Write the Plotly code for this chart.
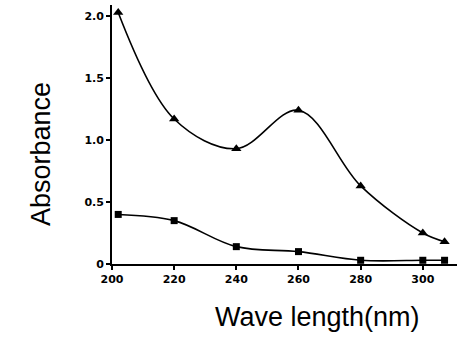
import plotly.graph_objects as go

wavelength_tri = [202, 220, 240, 260, 280, 300, 307]
absorb_tri = [2.03, 1.17, 0.93, 1.24, 0.63, 0.25, 0.18]
wavelength_sq = [202, 220, 240, 260, 280, 300, 307]
absorb_sq = [0.40, 0.35, 0.14, 0.10, 0.03, 0.03, 0.03]
x_ticks = [200, 220, 240, 260, 280, 300]
y_ticks = [0, 0.5, 1.0, 1.5, 2.0]
y_ticklabels = ["0", "0.5", "1.0", "1.5", "2.0"]

fig = go.Figure()
fig.add_trace(go.Scatter(
    x=wavelength_tri, y=absorb_tri, mode="lines+markers",
    line=dict(color="black", width=1.6, shape="spline", smoothing=1.0),
    marker=dict(symbol="triangle-up", size=9, color="black"),
    showlegend=False, cliponaxis=False))
fig.add_trace(go.Scatter(
    x=wavelength_sq, y=absorb_sq, mode="lines+markers",
    line=dict(color="black", width=1.6, shape="spline", smoothing=1.0),
    marker=dict(symbol="square", size=7, color="black"),
    showlegend=False, cliponaxis=False))

L, R, T, B = 112, 2, 5, 90
W, H = 459, 354
fig.update_layout(
    width=W, height=H,
    margin=dict(l=L, r=R, t=T, b=B),
    paper_bgcolor="white", plot_bgcolor="white",
    font=dict(family="DejaVu Sans", color="black"),
    xaxis=dict(range=[200, 311], tickvals=x_ticks, ticktext=[str(v) for v in x_ticks],
               showline=True, linecolor="black", linewidth=1.8, showgrid=False, zeroline=False,
               ticks="outside", ticklen=4, tickwidth=1.5, tickcolor="black",
               tickfont=dict(size=11, family="DejaVu Sans", weight="bold")),
    yaxis=dict(range=[0, 2.09], tickvals=y_ticks, ticktext=y_ticklabels,
               showline=True, linecolor="black", linewidth=1.8, showgrid=False, zeroline=False,
               ticks="outside", ticklen=4, tickwidth=1.5, tickcolor="black",
               tickfont=dict(size=11, family="DejaVu Sans", weight="bold")),
)
pw, ph = W - L - R, H - T - B
def px2paper(px, py):
    return (px - L) / pw, (H - B - py) / ph
ax, ay = px2paper(24, 154)
bx, by = px2paper(317, 334)
fig.add_annotation(text="Absorbance", x=ax, y=ay, xref="paper", yref="paper", showarrow=False,
                   textangle=-90, font=dict(size=27, family="Liberation Sans"))
fig.add_annotation(text="Wave length(nm)", x=bx, y=by, xref="paper", yref="paper", showarrow=False,
                   font=dict(size=27, family="Liberation Sans"))
fig.write_html("out.html", config={"displayModeBar": False},
               post_script="document.body.style.margin='0';")
